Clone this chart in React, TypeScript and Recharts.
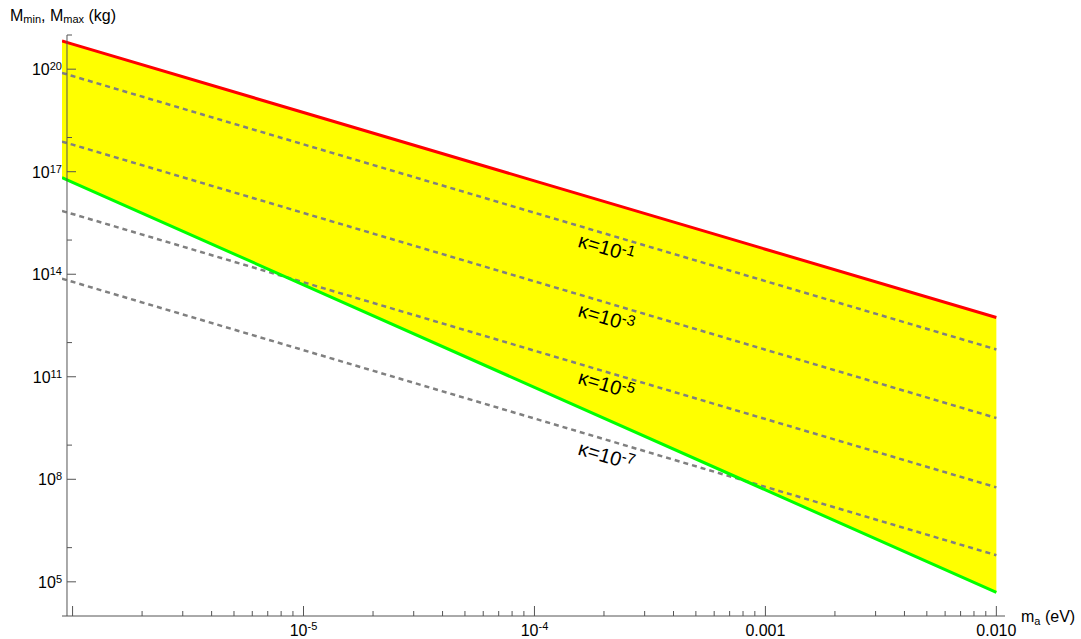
import React from 'react'
import {
  ComposedChart,
  Area,
  Line,
  XAxis,
  YAxis,
  ReferenceLine,
  ReferenceDot,
} from 'recharts'

// axion mass (eV) and the mass bounds (kg)
const M_A = [9e-7, 1e-6, 1e-5, 1e-4, 1e-3, 1e-2]
const M_MAX = [6.7e20, 5.4e20, 5.4e18, 5.4e16, 5.4e14, 5.4e12]
const M_MIN = [6.7e16, 4.9e16, 4.9e13, 4.9e10, 4.9e7, 4.9e4]
const KAPPA_1 = [7.8e19, 6.3e19, 6.3e17, 6.3e15, 6.3e13, 6.3e11]
const KAPPA_3 = [7.6e17, 6.2e17, 6.2e15, 6.2e13, 6.2e11, 6.2e9]
const KAPPA_5 = [7.1e15, 5.8e15, 5.8e13, 5.8e11, 5.8e9, 5.8e7]
const KAPPA_7 = [7.4e13, 6.0e13, 6.0e11, 6.0e9, 6.0e7, 6.0e5]

// where the kappa labels sit (data coords)
const KAPPA_EXPS = ['-1', '-3', '-5', '-7']
const KAPPA_LABEL_M = [2.05e-4, 2.05e-4, 2.05e-4, 2.05e-4]
const KAPPA_LABEL_Y = [5.9e14, 5.4e12, 5.9e10, 4.9e8]

const X_MAJOR = [1e-6, 1e-5, 1e-4, 1e-3, 1e-2]
const X_LABELS: ([string, string] | null)[] = [
  null,
  ['10', '-5'],
  ['10', '-4'],
  ['0.001', ''],
  ['0.010', ''],
]
const Y_MAJOR = [1e5, 1e8, 1e11, 1e14, 1e17, 1e20]
const Y_EXPS = ['5', '8', '11', '14', '17', '20']
const Y_MINOR = [1e6, 1e9, 1e12, 1e15, 1e18, 1e21]

const X_MINOR = X_MAJOR.slice(0, 4).flatMap((d) =>
  [2, 3, 4, 5, 6, 7, 8, 9].map((k) => k * d)
)
const X_TICKS = [...X_MAJOR, ...X_MINOR].sort((a, b) => a - b)
const Y_TICKS = [...Y_MAJOR, ...Y_MINOR].sort((a, b) => a - b)

const rows = M_A.map((m, i) => ({
  m,
  mmin: M_MIN[i],
  mmax: M_MAX[i],
  k1: KAPPA_1[i],
  k3: KAPPA_3[i],
  k5: KAPPA_5[i],
  k7: KAPPA_7[i],
}))

const FONT = '"Liberation Sans", Arial, sans-serif'
const AXIS = '#555555'
const AXIS_X = 9.46e-7 // mathematica puts the y axis a bit right of the data start
const AXIS_SHIFT = 5

const findIdx = (arr: number[], v: number) =>
  arr.findIndex((t) => Math.abs(v / t - 1) < 1e-6)

function XTick(props: any) {
  const { x, y, payload } = props
  const i = findIdx(X_MAJOR, payload.value)
  const major = i >= 0
  const lab = major ? X_LABELS[i] : null
  return (
    <g>
      <line x1={x} x2={x} y1={y} y2={y - (major ? 10 : 5)} stroke={AXIS} />
      {lab && (
        <text x={x} y={y + 20} textAnchor="middle" fontSize={16} fill="#000" fontFamily={FONT}>
          {lab[0]}
          {lab[1] && (
            <tspan dy={-6} fontSize={11}>
              {lab[1]}
            </tspan>
          )}
        </text>
      )}
    </g>
  )
}

function YTick(props: any) {
  const { x, y, payload } = props
  const i = findIdx(Y_MAJOR, payload.value)
  const major = i >= 0
  const ax = x + AXIS_SHIFT
  return (
    <g>
      <line x1={ax} x2={ax + (major ? 9 : 5)} y1={y} y2={y} stroke={AXIS} />
      {major && (
        <text x={ax - 5} y={y + 6} textAnchor="end" fontSize={16} fill="#000" fontFamily={FONT}>
          10
          <tspan dy={-5} fontSize={11}>
            {Y_EXPS[i]}
          </tspan>
        </text>
      )}
    </g>
  )
}

function KappaLabel({ cx, cy, exp }: { cx: number; cy: number; exp: string }) {
  return (
    <text
      x={cx}
      y={cy + 7}
      transform={`rotate(16.5 ${cx} ${cy})`}
      textAnchor="middle"
      fontSize={20}
      fill="#000"
      fontFamily={FONT}
    >
      κ=10
      <tspan dy={-6} fontSize={15}>
        {exp}
      </tspan>
    </text>
  )
}

export default function App() {
  return (
    <div
      style={{
        position: 'absolute',
        top: 0,
        left: 0,
        width: 1081,
        height: 639,
        background: '#fff',
        fontFamily: FONT,
      }}
    >
      <ComposedChart
        width={1081}
        height={639}
        data={rows}
        margin={{ top: 35, right: 76, bottom: 0, left: 0 }}
      >
        <XAxis
          dataKey="m"
          type="number"
          scale="log"
          domain={[9e-7, 1.09e-2]}
          allowDataOverflow
          ticks={X_TICKS}
          interval={0}
          height={23}
          tickSize={0}
          tickMargin={0}
          tickLine={false}
          axisLine={{ stroke: AXIS, strokeWidth: 1 }}
          tick={<XTick />}
        />
        <YAxis
          type="number"
          scale="log"
          domain={[1e4, 1e21]}
          allowDataOverflow
          ticks={Y_TICKS}
          interval={0}
          width={62}
          tickSize={0}
          tickMargin={0}
          tickLine={false}
          axisLine={false}
          tick={<YTick />}
        />
        <Area
          type="linear"
          dataKey={(d: any) => [d.mmin, d.mmax]}
          stroke="none"
          fill="#ffff00"
          fillOpacity={1}
          isAnimationActive={false}
        />
        {['k1', 'k3', 'k5', 'k7'].map((k) => (
          <Line
            key={k}
            type="linear"
            dataKey={k}
            stroke="#808080"
            strokeWidth={2.5}
            strokeDasharray="5 4"
            dot={false}
            isAnimationActive={false}
          />
        ))}
        <Line type="linear" dataKey="mmax" stroke="#ff0000" strokeWidth={3} dot={false} isAnimationActive={false} />
        <Line type="linear" dataKey="mmin" stroke="#00ff00" strokeWidth={3} dot={false} isAnimationActive={false} />
        <ReferenceLine x={AXIS_X} stroke={AXIS} strokeWidth={1} ifOverflow="visible" />
        {KAPPA_EXPS.map((e, i) => (
          <ReferenceDot
            key={e}
            x={KAPPA_LABEL_M[i]}
            y={KAPPA_LABEL_Y[i]}
            r={0}
            ifOverflow="visible"
            shape={(p: any) => <KappaLabel cx={p.cx} cy={p.cy} exp={e} />}
          />
        ))}
      </ComposedChart>
      <svg
        width={1081}
        height={639}
        style={{ position: 'absolute', top: 0, left: 0, pointerEvents: 'none' }}
      >
        <text x={10} y={21} fontSize={16} fill="#000" fontFamily={FONT}>
          M
          <tspan dy={2} fontSize={11}>min</tspan>
          <tspan dy={-2} fontSize={16}>{', M'}</tspan>
          <tspan dy={2} fontSize={11}>max</tspan>
          <tspan dy={-2} fontSize={16}>{' (kg)'}</tspan>
        </text>
        <text x={1021} y={622} fontSize={16} fill="#000" fontFamily={FONT}>
          m
          <tspan dy={3} fontSize={11}>a</tspan>
          <tspan dy={-3} fontSize={16}>{' (eV)'}</tspan>
        </text>
      </svg>
    </div>
  )
}
